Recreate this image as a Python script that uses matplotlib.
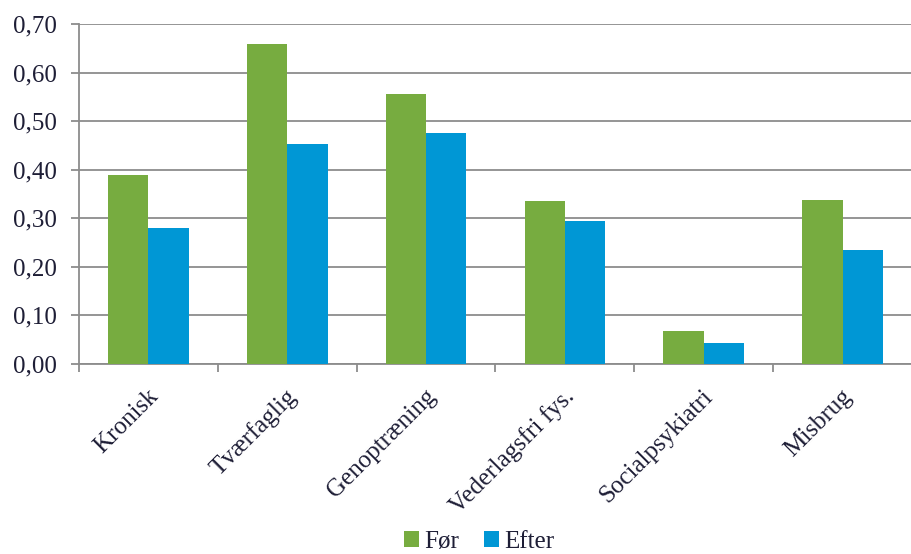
import numpy as np
import matplotlib.pyplot as plt
import matplotlib.transforms as mtransforms
from matplotlib.ticker import FixedLocator, FuncFormatter

plt.rcParams['font.family'] = ['Liberation Serif', 'DejaVu Serif']

# Andel før og efter, pr. indsats
kategorier = ['Kronisk', 'Tværfaglig', 'Genoptræning', 'Vederlagsfri fys.',
              'Socialpsykiatri', 'Misbrug']
foer = [0.389, 0.658, 0.556, 0.335, 0.068, 0.338]
efter = [0.281, 0.452, 0.476, 0.295, 0.043, 0.235]

groen = '#77AC40'
blaa = '#0097D5'
grid_col = '#8c8c8c'
tekst_col = '#1e1e36'

fig = plt.figure(figsize=(9.12, 5.54), dpi=100)
ax = fig.add_axes([79/912, 1 - 364/554, 1 - 79/912, 340/554])

x = np.arange(len(kategorier))
w = 0.29
ax.bar(x - w/2, foer, w, color=groen, label='Før', zorder=3)
ax.bar(x + w/2, efter, w, color=blaa, label='Efter', zorder=3)

ax.set_xlim(-0.5, len(kategorier) - 0.5)
ax.set_ylim(0, 0.70)
ax.set_yticks(np.arange(0, 0.71, 0.10))
ax.yaxis.set_major_formatter(FuncFormatter(lambda v, p: f'{v:.2f}'.replace('.', ',')))
ax.grid(axis='y', color=grid_col, lw=1.3, zorder=0)
ax.tick_params(axis='y', length=6, width=1.3, color=grid_col, labelsize=18,
               labelcolor=tekst_col, pad=10)

# kategorigrænser som små streger under aksen
ax.set_xticks(x)
ax.set_xticklabels(kategorier, rotation=45, ha='right', va='center',
                   rotation_mode='anchor', fontsize=18, color=tekst_col)
ax.tick_params(axis='x', which='major', length=0, pad=21)
ax.xaxis.set_minor_locator(FixedLocator(np.arange(-0.5, len(kategorier), 1.0)))
ax.tick_params(axis='x', which='minor', length=6, width=1.3, color=grid_col)

# flyt etiketterne en anelse mod højre
skub = mtransforms.ScaledTranslation(6/100, 0, fig.dpi_scale_trans)
for lbl in ax.get_xticklabels():
    lbl.set_transform(lbl.get_transform() + skub)

for s in ['top', 'right']:
    ax.spines[s].set_visible(False)
for s in ['left', 'bottom']:
    ax.spines[s].set_color(grid_col)
    ax.spines[s].set_linewidth(1.3)

fig.legend(loc='center', bbox_to_anchor=(479/912, 1 - 542/554), ncol=2,
           frameon=False, fontsize=18, handlelength=0.6, handleheight=0.6,
           handletextpad=0.2, columnspacing=1.0, labelcolor=tekst_col)

fig.savefig('out.png', dpi=100)
